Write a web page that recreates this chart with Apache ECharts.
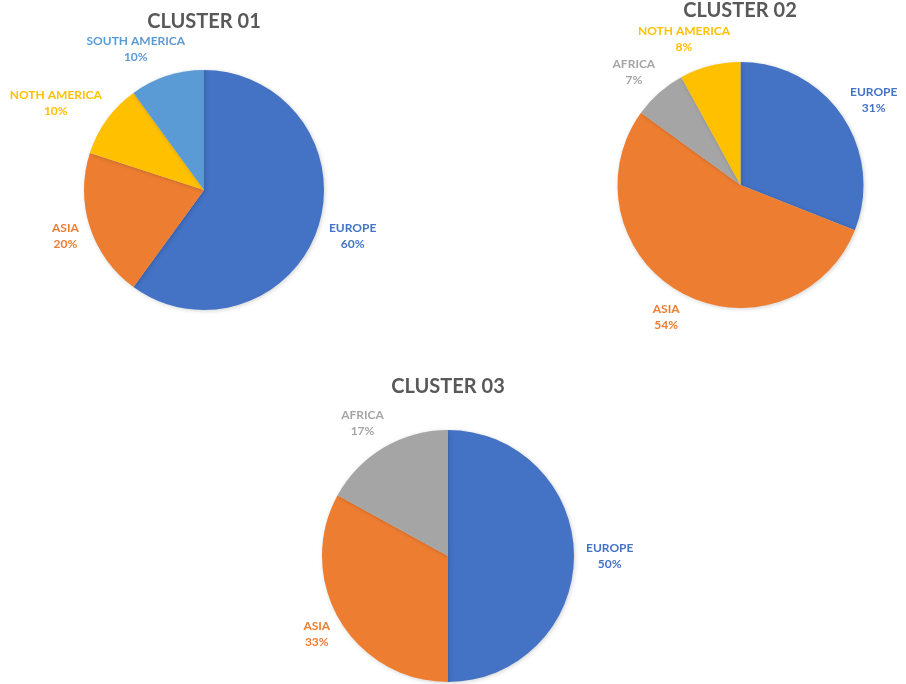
<!DOCTYPE html>
<html>
<head>
    <meta http-equiv="content-type" content="text/html;charset=utf-8">
    <script src="https://cdn.jsdelivr.net/npm/echarts@6/dist/echarts.min.js"></script>
    <style>
        html, body { margin: 0; padding: 0; background: #fff; }
        #main { width: 906px; height: 684px; }
    </style>
</head>
<body>
<div id="main"></div>
<script type="text/javascript">
    // 数据
    var cluster01_names = ['EUROPE', 'ASIA', 'NOTH AMERICA', 'SOUTH AMERICA'];
    var cluster01_values = [60, 20, 10, 10];
    var cluster02_names = ['EUROPE', 'ASIA', 'AFRICA', 'NOTH AMERICA'];
    var cluster02_values = [31, 54, 7, 8];
    var cluster03_names = ['EUROPE', 'ASIA', 'AFRICA'];
    var cluster03_values = [50, 33, 17];
    var titles = ['CLUSTER 01', 'CLUSTER 02', 'CLUSTER 03'];

    var colorMap = {
        'EUROPE': '#4472C4',
        'ASIA': '#ED7D31',
        'NOTH AMERICA': '#FFC000',
        'SOUTH AMERICA': '#5B9BD5',
        'AFRICA': '#A5A5A5'
    };

    var chart = echarts.init(document.getElementById('main'));

    function buildData(names, values) {
        var arr = [];
        for (var i = 0; i < names.length; i++) {
            arr.push({
                name: names[i],
                value: values[i],
                itemStyle: {color: colorMap[names[i]]},
                label: {color: colorMap[names[i]]}
            });
        }
        return arr;
    }

    // 标签放在扇区外侧，居中对齐（类似 Excel 的最佳位置）
    function placeLabel(params) {
        var pts = params.labelLinePoints;
        if (!pts) return {};
        var dx = pts[1][0] - pts[0][0], dy = pts[1][1] - pts[0][1];
        var len = Math.sqrt(dx * dx + dy * dy) || 1;
        dx /= len; dy /= len;
        var sx = (dx < 0 ? -1 : 1) * Math.sqrt(Math.abs(dx));
        var w = params.labelRect.width, h = params.labelRect.height;
        return {
            x: pts[1][0] + sx * w / 2,
            y: pts[1][1] + dy * h / 2,
            align: 'center',
            verticalAlign: 'middle'
        };
    }

    function makePie(names, values, center, radius) {
        return {
            type: 'pie',
            center: center,
            radius: radius,
            startAngle: 90,
            clockwise: true,
            avoidLabelOverlap: false,
            animation: false,
            data: buildData(names, values),
            itemStyle: {
                borderWidth: 0,
                shadowBlur: 4,
                shadowColor: 'rgba(0,0,0,0.18)',
                shadowOffsetX: 1,
                shadowOffsetY: 1
            },
            label: {
                position: 'outside',
                formatter: '{b}\n{c}%',
                fontFamily: 'Lato',
                fontWeight: 'bold',
                fontSize: 12,
                lineHeight: 16,
                align: 'center'
            },
            labelLine: {
                show: true,
                length: 12,
                length2: 0,
                lineStyle: {opacity: 0}
            },
            labelLayout: placeLabel,
            emphasis: {disabled: true}
        };
    }

    var titleStyle = {
        color: '#595959',
        fontFamily: 'Lato',
        fontWeight: 'bold',
        fontSize: 20
    };

    var option = {
        backgroundColor: '#ffffff',
        title: [
            {text: titles[0], left: 204, top: 12, textAlign: 'center', padding: 0, textStyle: titleStyle},
            {text: titles[1], left: 740, top: 1, textAlign: 'center', padding: 0, textStyle: titleStyle},
            {text: titles[2], left: 448, top: 377, textAlign: 'center', padding: 0, textStyle: titleStyle}
        ],
        series: [
            makePie(cluster01_names, cluster01_values, [204, 190], 120),
            makePie(cluster02_names, cluster02_values, [740.5, 185], 123),
            makePie(cluster03_names, cluster03_values, [448, 556], 126)
        ]
    };

    chart.setOption(option);
</script>
</body>
</html>
